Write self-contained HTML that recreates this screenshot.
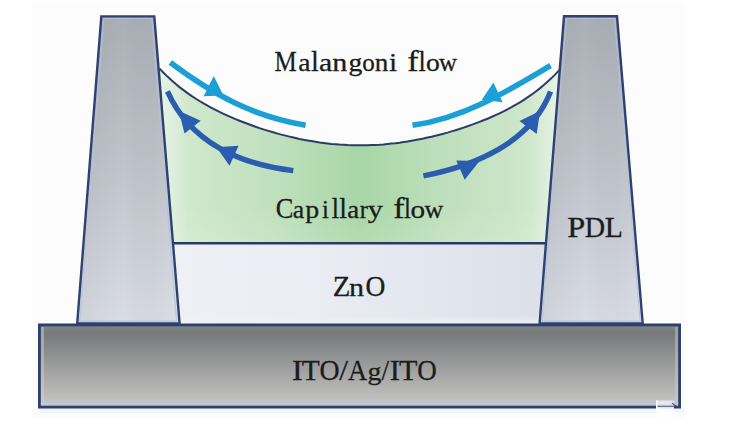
<!DOCTYPE html>
<html><head><meta charset="utf-8">
<style>
html,body{margin:0;padding:0;background:#fff;}
body{width:735px;height:428px;overflow:hidden;}
svg{display:block;}
text.t{font-family:"Liberation Serif",serif;fill:#1c1c1c;stroke:#1c1c1c;stroke-width:0.3px;stroke-linejoin:round;font-kerning:none;font-variant-ligatures:none;white-space:pre;}
</style></head>
<body>
<svg width="735" height="428" viewBox="0 0 735 428">
<defs>
  <linearGradient id="pil" x1="0" y1="0" x2="0" y2="1">
    <stop offset="0" stop-color="#aaaeb5"/>
    <stop offset="0.5" stop-color="#c0c4cc"/>
    <stop offset="1" stop-color="#dadde6"/>
  </linearGradient>
  <linearGradient id="pilh" x1="0" y1="0" x2="1" y2="0">
    <stop offset="0" stop-color="#000" stop-opacity="0.05"/>
    <stop offset="0.45" stop-color="#000" stop-opacity="0"/>
    <stop offset="1" stop-color="#fff" stop-opacity="0.10"/>
  </linearGradient>
  <linearGradient id="base" x1="0" y1="0" x2="0" y2="1">
    <stop offset="0" stop-color="#7f8583"/>
    <stop offset="0.1" stop-color="#78797a"/>
    <stop offset="0.5" stop-color="#9b9c9c"/>
    <stop offset="0.86" stop-color="#bcbcb9"/>
    <stop offset="1" stop-color="#c8cad9"/>
  </linearGradient>
  <linearGradient id="green" gradientUnits="userSpaceOnUse" x1="160" y1="0" x2="560" y2="0">
    <stop offset="0" stop-color="#d6ecd4"/>
    <stop offset="0.12" stop-color="#cbe6c8"/>
    <stop offset="0.3" stop-color="#bfe0bc"/>
    <stop offset="0.5" stop-color="#a8d6a7"/>
    <stop offset="0.7" stop-color="#bedfbb"/>
    <stop offset="0.88" stop-color="#cae5c7"/>
    <stop offset="1" stop-color="#d6ecd4"/>
  </linearGradient>
  <linearGradient id="greenV" gradientUnits="userSpaceOnUse" x1="0" y1="140" x2="0" y2="245">
    <stop offset="0" stop-color="#fff" stop-opacity="0"/>
    <stop offset="0.6" stop-color="#fff" stop-opacity="0"/>
    <stop offset="1" stop-color="#fff" stop-opacity="0.12"/>
  </linearGradient>
  <linearGradient id="wallL" gradientUnits="userSpaceOnUse" x1="160" y1="0" x2="188" y2="0">
    <stop offset="0" stop-color="#fff" stop-opacity="0.42"/>
    <stop offset="1" stop-color="#fff" stop-opacity="0"/>
  </linearGradient>
  <linearGradient id="wallR" gradientUnits="userSpaceOnUse" x1="560" y1="0" x2="530" y2="0">
    <stop offset="0" stop-color="#fff" stop-opacity="0.42"/>
    <stop offset="1" stop-color="#fff" stop-opacity="0"/>
  </linearGradient>
  <linearGradient id="zno" x1="0" y1="0" x2="1" y2="0">
    <stop offset="0" stop-color="#eef0f6"/>
    <stop offset="0.3" stop-color="#eceef5"/>
    <stop offset="0.7" stop-color="#e2e6ee"/>
    <stop offset="1" stop-color="#dadfe9"/>
  </linearGradient>
  <linearGradient id="znob" x1="0" y1="0" x2="0" y2="1">
    <stop offset="0" stop-color="#f0f2f8" stop-opacity="0"/>
    <stop offset="1" stop-color="#f0f2fa" stop-opacity="0.9"/>
  </linearGradient>
  <clipPath id="cu"><rect x="-500" y="-8" width="3000" height="3000"/></clipPath>
  <clipPath id="cd"><rect x="-500" y="-1000" width="3000" height="1000"/></clipPath>
</defs>
<rect width="735" height="428" fill="#fff"/>
<rect x="32" y="3" width="654" height="416" fill="#fcfcfc"/>

<!-- liquid (green) -->
<path d="M159.5,68.6 L163.5,72.7 L167.5,76.6 L171.5,80.3 L175.5,83.8 L179.5,87.1 L183.5,90.1 L187.5,93.1 L191.5,95.9 L195.5,98.5 L199.5,101.0 L203.5,103.4 L207.5,105.7 L211.5,107.8 L215.5,109.9 L219.5,111.9 L223.5,113.8 L227.5,115.6 L231.5,117.4 L235.5,119.1 L239.5,120.7 L243.5,122.3 L247.5,123.8 L251.5,125.3 L255.5,126.7 L259.5,128.1 L263.5,129.4 L267.5,130.6 L271.5,131.8 L275.5,133.0 L279.5,134.1 L283.5,135.1 L287.5,136.1 L291.5,137.1 L295.5,138.0 L299.5,138.9 L303.5,139.7 L307.5,140.4 L311.5,141.1 L315.5,141.8 L319.5,142.4 L323.5,142.9 L327.5,143.4 L331.5,143.9 L335.5,144.2 L339.5,144.6 L343.5,144.8 L347.5,145.1 L351.5,145.2 L355.5,145.3 L359.5,145.3 L363.5,145.3 L367.5,145.3 L371.5,145.1 L375.5,144.9 L379.5,144.7 L383.5,144.4 L387.5,144.0 L391.5,143.6 L395.5,143.2 L399.5,142.7 L403.5,142.1 L407.5,141.5 L411.5,140.8 L415.5,140.1 L419.5,139.3 L423.5,138.5 L427.5,137.6 L431.5,136.7 L435.5,135.7 L439.5,134.7 L443.5,133.7 L447.5,132.6 L451.5,131.4 L455.5,130.2 L459.5,129.0 L463.5,127.6 L467.5,126.3 L471.5,124.9 L475.5,123.4 L479.5,121.9 L483.5,120.3 L487.5,118.7 L491.5,117.0 L495.5,115.2 L499.5,113.3 L503.5,111.4 L507.5,109.3 L511.5,107.2 L515.5,104.9 L519.5,102.6 L523.5,100.1 L527.5,97.4 L531.5,94.7 L535.5,91.7 L539.5,88.6 L543.5,85.3 L547.5,81.8 L551.5,78.1 L555.5,74.1 L559.5,69.9 L559.8,69.5 L548,245 L170,245 Z" fill="url(#green)"/>
<path d="M159.5,68.6 L163.5,72.7 L167.5,76.6 L171.5,80.3 L175.5,83.8 L179.5,87.1 L183.5,90.1 L187.5,93.1 L191.5,95.9 L195.5,98.5 L199.5,101.0 L203.5,103.4 L207.5,105.7 L211.5,107.8 L215.5,109.9 L219.5,111.9 L223.5,113.8 L227.5,115.6 L231.5,117.4 L235.5,119.1 L239.5,120.7 L243.5,122.3 L247.5,123.8 L251.5,125.3 L255.5,126.7 L259.5,128.1 L263.5,129.4 L267.5,130.6 L271.5,131.8 L275.5,133.0 L279.5,134.1 L283.5,135.1 L287.5,136.1 L291.5,137.1 L295.5,138.0 L299.5,138.9 L303.5,139.7 L307.5,140.4 L311.5,141.1 L315.5,141.8 L319.5,142.4 L323.5,142.9 L327.5,143.4 L331.5,143.9 L335.5,144.2 L339.5,144.6 L343.5,144.8 L347.5,145.1 L351.5,145.2 L355.5,145.3 L359.5,145.3 L363.5,145.3 L367.5,145.3 L371.5,145.1 L375.5,144.9 L379.5,144.7 L383.5,144.4 L387.5,144.0 L391.5,143.6 L395.5,143.2 L399.5,142.7 L403.5,142.1 L407.5,141.5 L411.5,140.8 L415.5,140.1 L419.5,139.3 L423.5,138.5 L427.5,137.6 L431.5,136.7 L435.5,135.7 L439.5,134.7 L443.5,133.7 L447.5,132.6 L451.5,131.4 L455.5,130.2 L459.5,129.0 L463.5,127.6 L467.5,126.3 L471.5,124.9 L475.5,123.4 L479.5,121.9 L483.5,120.3 L487.5,118.7 L491.5,117.0 L495.5,115.2 L499.5,113.3 L503.5,111.4 L507.5,109.3 L511.5,107.2 L515.5,104.9 L519.5,102.6 L523.5,100.1 L527.5,97.4 L531.5,94.7 L535.5,91.7 L539.5,88.6 L543.5,85.3 L547.5,81.8 L551.5,78.1 L555.5,74.1 L559.5,69.9 L559.8,69.5 L548,245 L170,245 Z" fill="url(#greenV)"/>
<path d="M159.5,68.6 L163.5,72.7 L167.5,76.6 L171.5,80.3 L175.5,83.8 L179.5,87.1 L183.5,90.1 L187.5,93.1 L191.5,95.9 L195.5,98.5 L199.5,101.0 L203.5,103.4 L207.5,105.7 L211.5,107.8 L215.5,109.9 L219.5,111.9 L223.5,113.8 L227.5,115.6 L231.5,117.4 L235.5,119.1 L239.5,120.7 L243.5,122.3 L247.5,123.8 L251.5,125.3 L255.5,126.7 L259.5,128.1 L263.5,129.4 L267.5,130.6 L271.5,131.8 L275.5,133.0 L279.5,134.1 L283.5,135.1 L287.5,136.1 L291.5,137.1 L295.5,138.0 L299.5,138.9 L303.5,139.7 L307.5,140.4 L311.5,141.1 L315.5,141.8 L319.5,142.4 L323.5,142.9 L327.5,143.4 L331.5,143.9 L335.5,144.2 L339.5,144.6 L343.5,144.8 L347.5,145.1 L351.5,145.2 L355.5,145.3 L359.5,145.3 L363.5,145.3 L367.5,145.3 L371.5,145.1 L375.5,144.9 L379.5,144.7 L383.5,144.4 L387.5,144.0 L391.5,143.6 L395.5,143.2 L399.5,142.7 L403.5,142.1 L407.5,141.5 L411.5,140.8 L415.5,140.1 L419.5,139.3 L423.5,138.5 L427.5,137.6 L431.5,136.7 L435.5,135.7 L439.5,134.7 L443.5,133.7 L447.5,132.6 L451.5,131.4 L455.5,130.2 L459.5,129.0 L463.5,127.6 L467.5,126.3 L471.5,124.9 L475.5,123.4 L479.5,121.9 L483.5,120.3 L487.5,118.7 L491.5,117.0 L495.5,115.2 L499.5,113.3 L503.5,111.4 L507.5,109.3 L511.5,107.2 L515.5,104.9 L519.5,102.6 L523.5,100.1 L527.5,97.4 L531.5,94.7 L535.5,91.7 L539.5,88.6 L543.5,85.3 L547.5,81.8 L551.5,78.1 L555.5,74.1 L559.5,69.9 L559.8,69.5 L548,245 L170,245 Z" fill="url(#wallL)"/>
<path d="M159.5,68.6 L163.5,72.7 L167.5,76.6 L171.5,80.3 L175.5,83.8 L179.5,87.1 L183.5,90.1 L187.5,93.1 L191.5,95.9 L195.5,98.5 L199.5,101.0 L203.5,103.4 L207.5,105.7 L211.5,107.8 L215.5,109.9 L219.5,111.9 L223.5,113.8 L227.5,115.6 L231.5,117.4 L235.5,119.1 L239.5,120.7 L243.5,122.3 L247.5,123.8 L251.5,125.3 L255.5,126.7 L259.5,128.1 L263.5,129.4 L267.5,130.6 L271.5,131.8 L275.5,133.0 L279.5,134.1 L283.5,135.1 L287.5,136.1 L291.5,137.1 L295.5,138.0 L299.5,138.9 L303.5,139.7 L307.5,140.4 L311.5,141.1 L315.5,141.8 L319.5,142.4 L323.5,142.9 L327.5,143.4 L331.5,143.9 L335.5,144.2 L339.5,144.6 L343.5,144.8 L347.5,145.1 L351.5,145.2 L355.5,145.3 L359.5,145.3 L363.5,145.3 L367.5,145.3 L371.5,145.1 L375.5,144.9 L379.5,144.7 L383.5,144.4 L387.5,144.0 L391.5,143.6 L395.5,143.2 L399.5,142.7 L403.5,142.1 L407.5,141.5 L411.5,140.8 L415.5,140.1 L419.5,139.3 L423.5,138.5 L427.5,137.6 L431.5,136.7 L435.5,135.7 L439.5,134.7 L443.5,133.7 L447.5,132.6 L451.5,131.4 L455.5,130.2 L459.5,129.0 L463.5,127.6 L467.5,126.3 L471.5,124.9 L475.5,123.4 L479.5,121.9 L483.5,120.3 L487.5,118.7 L491.5,117.0 L495.5,115.2 L499.5,113.3 L503.5,111.4 L507.5,109.3 L511.5,107.2 L515.5,104.9 L519.5,102.6 L523.5,100.1 L527.5,97.4 L531.5,94.7 L535.5,91.7 L539.5,88.6 L543.5,85.3 L547.5,81.8 L551.5,78.1 L555.5,74.1 L559.5,69.9 L559.8,69.5 L548,245 L170,245 Z" fill="url(#wallR)"/>
<!-- ZnO -->
<rect x="170" y="243" width="380" height="80" fill="url(#zno)"/>
<rect x="170" y="316" width="380" height="8" fill="url(#znob)"/>
<line x1="170" y1="243.2" x2="550" y2="243.2" stroke="#2b3a60" stroke-width="2.6"/>

<!-- meniscus -->
<path d="M159.5,68.6 L163.5,72.7 L167.5,76.6 L171.5,80.3 L175.5,83.8 L179.5,87.1 L183.5,90.1 L187.5,93.1 L191.5,95.9 L195.5,98.5 L199.5,101.0 L203.5,103.4 L207.5,105.7 L211.5,107.8 L215.5,109.9 L219.5,111.9 L223.5,113.8 L227.5,115.6 L231.5,117.4 L235.5,119.1 L239.5,120.7 L243.5,122.3 L247.5,123.8 L251.5,125.3 L255.5,126.7 L259.5,128.1 L263.5,129.4 L267.5,130.6 L271.5,131.8 L275.5,133.0 L279.5,134.1 L283.5,135.1 L287.5,136.1 L291.5,137.1 L295.5,138.0 L299.5,138.9 L303.5,139.7 L307.5,140.4 L311.5,141.1 L315.5,141.8 L319.5,142.4 L323.5,142.9 L327.5,143.4 L331.5,143.9 L335.5,144.2 L339.5,144.6 L343.5,144.8 L347.5,145.1 L351.5,145.2 L355.5,145.3 L359.5,145.3 L363.5,145.3 L367.5,145.3 L371.5,145.1 L375.5,144.9 L379.5,144.7 L383.5,144.4 L387.5,144.0 L391.5,143.6 L395.5,143.2 L399.5,142.7 L403.5,142.1 L407.5,141.5 L411.5,140.8 L415.5,140.1 L419.5,139.3 L423.5,138.5 L427.5,137.6 L431.5,136.7 L435.5,135.7 L439.5,134.7 L443.5,133.7 L447.5,132.6 L451.5,131.4 L455.5,130.2 L459.5,129.0 L463.5,127.6 L467.5,126.3 L471.5,124.9 L475.5,123.4 L479.5,121.9 L483.5,120.3 L487.5,118.7 L491.5,117.0 L495.5,115.2 L499.5,113.3 L503.5,111.4 L507.5,109.3 L511.5,107.2 L515.5,104.9 L519.5,102.6 L523.5,100.1 L527.5,97.4 L531.5,94.7 L535.5,91.7 L539.5,88.6 L543.5,85.3 L547.5,81.8 L551.5,78.1 L555.5,74.1 L559.5,69.9 L559.8,69.5" fill="none" stroke="#2d3c66" stroke-width="2.0"/>

<!-- base -->
<rect x="38" y="408" width="646" height="5.5" fill="#eef7fb"/>
<rect x="39.4" y="324.9" width="640.2" height="82.2" fill="url(#base)" stroke="#2f3f6c" stroke-width="2.8"/>
<rect x="41" y="327" width="3" height="78" fill="#c9cde0" opacity="0.5"/>
<rect x="675" y="327" width="3" height="78" fill="#c9cde0" opacity="0.45"/>

<!-- pillars -->
<polygon points="101.3,16.4 154.3,16.4 179.6,323.5 77.2,323.5" fill="url(#pil)"/>
<polygon points="101.3,16.4 154.3,16.4 179.6,323.5 77.2,323.5" fill="url(#pilh)" stroke="#2f4173" stroke-width="2.4" stroke-linejoin="miter"/>
<polygon points="564,16.3 617,16.3 642.7,323.5 539.6,323.5" fill="url(#pil)"/>
<polygon points="564,16.3 617,16.3 642.7,323.5 539.6,323.5" fill="url(#pilh)" stroke="#2f4173" stroke-width="2.4" stroke-linejoin="miter"/>
<polygon points="103.7,18.7 151.9,18.7 176.5,321 79.7,321" fill="none" stroke="#b6c1d8" stroke-width="1.3" opacity="0.75"/>
<polygon points="566.4,18.6 614.6,18.6 640.1,321 542.1,321" fill="none" stroke="#b6c1d8" stroke-width="1.3" opacity="0.75"/>

<!-- Marangoni arrows (cyan) -->
<path d="M170.3,62.6 C213.8,95 251.7,116 305.6,125.2" fill="none" stroke="#1aa0d6" stroke-width="5.6"/>
<polygon points="213.8,76 203.6,96.2 223.4,95.6" fill="#1aa0d6"/>
<path d="M550.5,65.5 C507.3,91.5 463.5,118.2 412.5,125.3" fill="none" stroke="#1aa0d6" stroke-width="5.6"/>
<polygon points="493.4,82.4 481.8,99.8 502.6,102.2" fill="#1aa0d6"/>

<!-- Capillary arrows (blue) -->
<path d="M293.3,170.6 C240.4,164.5 189.9,142.3 167.5,91.3" fill="none" stroke="#2a5cb0" stroke-width="5.4"/>
<polygon points="238.6,145.7 229.5,165.7 216.5,147.2" fill="#2a5cb0"/>
<polygon points="184.5,133.6 200.7,120.8 178.8,110.8" fill="#2a5cb0"/>
<path d="M423.4,175.9 C474.1,166.0 530.6,143.2 550.6,91.5" fill="none" stroke="#2a5cb0" stroke-width="5.4"/>
<polygon points="456.3,160.4 464.7,179.7 479.6,161" fill="#2a5cb0"/>
<polygon points="519.5,120.9 536.7,134 540,111.1" fill="#2a5cb0"/>

<!-- text -->
<text class="t" y="70.90"><tspan x="274.38" font-size="30.24" textLength="22.25" lengthAdjust="spacingAndGlyphs">M</tspan><tspan x="298.23" font-size="24.84" textLength="12.25" lengthAdjust="spacingAndGlyphs">a</tspan><tspan x="311.04" font-size="30.24" textLength="7.83" lengthAdjust="spacingAndGlyphs">l</tspan><tspan x="319.05" font-size="24.84" textLength="13.26" lengthAdjust="spacingAndGlyphs">a</tspan><tspan x="332.21" font-size="24.84" textLength="15.05" lengthAdjust="spacingAndGlyphs">n</tspan><tspan x="348.51" font-size="24.84" textLength="13.81" lengthAdjust="spacingAndGlyphs">g</tspan><tspan x="362.35" font-size="24.84" textLength="12.51" lengthAdjust="spacingAndGlyphs">o</tspan><tspan x="374.78" font-size="24.84" textLength="13.53" lengthAdjust="spacingAndGlyphs">n</tspan><tspan x="389.08" font-size="24.84" textLength="8.18" lengthAdjust="spacingAndGlyphs">i</tspan> <tspan x="407.25" font-size="30.24" textLength="11.35" lengthAdjust="spacingAndGlyphs">f</tspan><tspan x="418.38" font-size="30.24" textLength="7.24" lengthAdjust="spacingAndGlyphs">l</tspan><tspan x="425.95" font-size="24.84" textLength="13.80" lengthAdjust="spacingAndGlyphs">o</tspan><tspan x="439.08" font-size="24.84" textLength="17.93" lengthAdjust="spacingAndGlyphs">w</tspan></text>
<text class="t" y="218.30"><tspan x="275.81" font-size="30.24" textLength="17.64" lengthAdjust="spacingAndGlyphs">C</tspan><tspan x="292.79" font-size="24.84" textLength="11.46" lengthAdjust="spacingAndGlyphs">a</tspan><tspan x="305.25" font-size="24.84" textLength="13.94" lengthAdjust="spacingAndGlyphs">p</tspan><tspan x="322.08" font-size="24.84" textLength="6.89" lengthAdjust="spacingAndGlyphs">i</tspan><tspan x="331.68" font-size="30.24" textLength="7.24" lengthAdjust="spacingAndGlyphs">l</tspan><tspan x="339.24" font-size="30.24" textLength="7.71" lengthAdjust="spacingAndGlyphs">l</tspan><tspan x="347.26" font-size="24.84" textLength="11.91" lengthAdjust="spacingAndGlyphs">a</tspan><tspan x="359.71" font-size="24.84" textLength="8.21" lengthAdjust="spacingAndGlyphs">r</tspan><tspan x="367.73" font-size="24.84" textLength="15.19" lengthAdjust="spacingAndGlyphs">y</tspan> <tspan x="393.25" font-size="30.24" textLength="11.35" lengthAdjust="spacingAndGlyphs">f</tspan><tspan x="403.90" font-size="30.24" textLength="6.89" lengthAdjust="spacingAndGlyphs">l</tspan><tspan x="410.49" font-size="24.84" textLength="14.63" lengthAdjust="spacingAndGlyphs">o</tspan><tspan x="424.47" font-size="24.84" textLength="18.74" lengthAdjust="spacingAndGlyphs">w</tspan></text>
<text class="t" y="296.10"><tspan x="332.72" font-size="30.24" textLength="17.67" lengthAdjust="spacingAndGlyphs">Z</tspan><tspan x="348.91" font-size="24.84" textLength="15.05" lengthAdjust="spacingAndGlyphs">n</tspan><tspan x="365.57" font-size="30.24" textLength="19.86" lengthAdjust="spacingAndGlyphs">O</tspan></text>
<text class="t" y="379.60"><tspan x="291.94" font-size="30.24" textLength="10.69" lengthAdjust="spacingAndGlyphs">I</tspan><tspan x="301.87" font-size="30.24" textLength="17.92" lengthAdjust="spacingAndGlyphs">T</tspan><tspan x="319.46" font-size="30.24" textLength="20.08" lengthAdjust="spacingAndGlyphs">O</tspan><tspan x="339.20" font-size="30.24" textLength="8.80" lengthAdjust="spacingAndGlyphs">/</tspan><tspan x="348.04" font-size="30.24" textLength="19.15" lengthAdjust="spacingAndGlyphs">A</tspan><tspan x="367.60" font-size="24.84" textLength="13.93" lengthAdjust="spacingAndGlyphs">g</tspan><tspan x="381.40" font-size="30.24" textLength="7.50" lengthAdjust="spacingAndGlyphs">/</tspan><tspan x="389.70" font-size="30.24" textLength="10.18" lengthAdjust="spacingAndGlyphs">I</tspan><tspan x="399.05" font-size="30.24" textLength="18.45" lengthAdjust="spacingAndGlyphs">T</tspan><tspan x="417.19" font-size="30.24" textLength="19.52" lengthAdjust="spacingAndGlyphs">O</tspan></text>
<text class="t" y="236.70"><tspan x="567.27" font-size="30.24" textLength="18.03" lengthAdjust="spacingAndGlyphs">P</tspan><tspan x="584.79" font-size="30.24" textLength="20.34" lengthAdjust="spacingAndGlyphs">D</tspan><tspan x="604.74" font-size="30.24" textLength="18.14" lengthAdjust="spacingAndGlyphs">L</tspan></text>

<!-- watermark remnant -->
<rect x="656" y="400.5" width="18" height="4" fill="#fff" opacity="0.6"/>
<rect x="656" y="404.5" width="18" height="2.5" fill="#fff" opacity="0.3"/>
<rect x="656" y="407" width="18" height="11" fill="#fff" opacity="0.85"/>
<rect x="656" y="400.5" width="1.5" height="18" fill="#fff"/>
<path d="M672,403 L677,407 L681,406" fill="none" stroke="#3a4560" stroke-width="1.2" opacity="0.8"/>
</svg>
</body></html>
